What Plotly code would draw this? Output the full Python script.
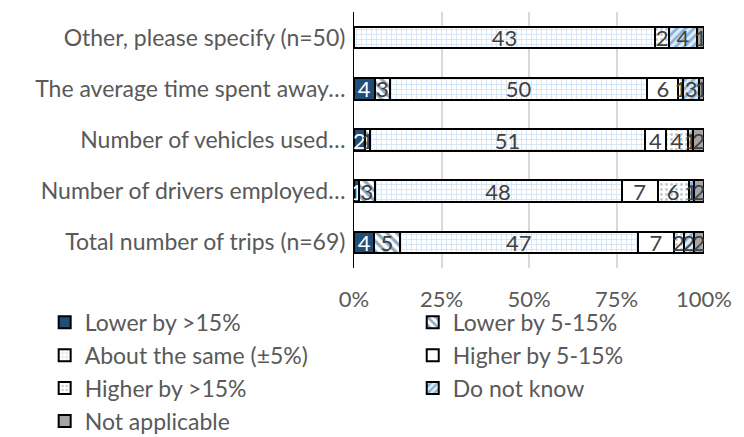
import plotly.graph_objects as go

categories = [
    "Total number of trips (n=69)",
    "Number of drivers employed…",
    "Number of vehicles used…",
    "The average time spent away…",
    "Other, please specify (n=50)",
]
series_names = [
    "Lower by >15%",
    "Lower by 5-15%",
    "About the same (±5%)",
    "Higher by 5-15%",
    "Higher by >15%",
    "Do not know",
    "Not applicable",
]
lower_15 = [4, 1, 2, 4, None]
lower_5_15 = [5, 3, 1, 3, None]
about_same = [47, 48, 51, 50, 43]
higher_5_15 = [7, 7, 4, 6, 0]
higher_15 = [2, 6, 4, 1, 2]
do_not_know = [2, 1, 1, 3, 4]
not_applicable = [2, 2, 2, 1, 1]
series_values = [lower_15, lower_5_15, about_same, higher_5_15, higher_15, do_not_know, not_applicable]
tick_vals = [0, 25, 50, 75, 100]
tick_text = ["0%", "25%", "50%", "75%", "100%"]

styles = [
    dict(color="#1F4E79", pattern=dict(shape="")),
    dict(color="white", pattern=dict(shape="\\", fgcolor="#1F4E79", bgcolor="white", size=7, solidity=0.45)),
    dict(color="white", pattern=dict(shape="+", fgcolor="#9DC3E6", bgcolor="white", size=5, solidity=0.3)),
    dict(color="white", pattern=dict(shape="")),
    dict(color="white", pattern=dict(shape=".", fgcolor="#7F93A8", bgcolor="white", size=5, solidity=0.25)),
    dict(color="white", pattern=dict(shape="/", fgcolor="#2E75B6", bgcolor="#DEEBF7", size=6, solidity=0.45)),
    dict(color="#A5A5A5", pattern=dict(shape="")),
]
text_colors = ["white", "#404040", "#404040", "#404040", "#404040", "#404040", "#404040"]
legend_ids = ["legend", "legend2", "legend", "legend2", "legend", "legend2", "legend"]

FONT = "Lato"
fig = go.Figure()
for name, vals, st, tc, lg in zip(series_names, series_values, styles, text_colors, legend_ids):
    pct = []
    for i, v in enumerate(vals):
        if v is None:
            pct.append(None)
        else:
            tot = sum(s[i] for s in series_values if s[i] is not None)
            pct.append(v / tot * 100)
    fig.add_trace(go.Bar(
        name=name,
        y=categories,
        x=pct,
        orientation="h",
        text=[("" if v is None else str(v)) for v in vals],
        textposition="inside",
        insidetextanchor="middle",
        textangle=0,
        textfont=dict(color=tc, size=22, family=FONT),
        marker=dict(color=st["color"], pattern=st["pattern"], line=dict(color="black", width=2)),
        hoverinfo="skip",
        legend=lg,
    ))

legend_common = dict(
    orientation="v",
    xref="container",
    yref="container",
    xanchor="left",
    y=0.33,
    yanchor="top",
    font=dict(size=23, color="#595959"),
    traceorder="normal",
    itemwidth=30,
    bgcolor="rgba(0,0,0,0)",
)

fig.update_layout(
    barmode="stack",
    bargap=0.58,
    width=744,
    height=437,
    margin=dict(l=346, r=48, t=4, b=177, autoexpand=False),
    paper_bgcolor="white",
    plot_bgcolor="white",
    font=dict(family=FONT, size=23, color="#595959"),
    uniformtext=dict(minsize=22, mode="show"),
    xaxis=dict(
        range=[0, 100],
        tickvals=tick_vals,
        ticktext=tick_text,
        showgrid=True,
        gridcolor="#D9D9D9",
        gridwidth=2,
        zeroline=False,
        ticks="outside",
        ticklen=12,
        tickcolor="rgba(0,0,0,0)",
        tickfont=dict(size=22, color="#595959"),
        fixedrange=True,
    ),
    yaxis=dict(
        categoryorder="array",
        categoryarray=categories,
        showline=True,
        linecolor="black",
        linewidth=1,
        ticks="",
        tickfont=dict(size=23, color="#595959"),
        ticklabelstandoff=3,
        fixedrange=True,
    ),
    legend=dict(legend_common, x=0.0493),
    legend2=dict(legend_common, x=0.544),
    showlegend=True,
)

fig.write_html("out.html")
